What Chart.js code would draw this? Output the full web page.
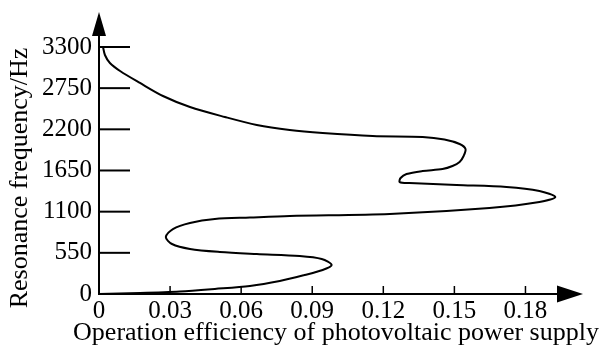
<!DOCTYPE html>
<html>
<head>
<meta charset="utf-8">
<script src="https://cdn.jsdelivr.net/npm/chart.js@4"></script>
<style>
  html, body { margin: 0; padding: 0; background: #fff; }
  #wrap { width: 610px; height: 351px; }
</style>
</head>
<body>
<div id="wrap"><canvas id="resChart" width="610" height="351"></canvas></div>
<script>
  // curve traced from top (3300 Hz) down to the origin
  const efficiency = [
    0.0017, 0.0025, 0.0046, 0.0089, 0.0173, 0.027, 0.0384, 0.0531, 0.0666, 0.0805,
    0.0944, 0.1155, 0.1366, 0.1458, 0.1522, 0.1547, 0.1539, 0.1522, 0.1492, 0.145,
    0.1366, 0.1298, 0.1273, 0.1269, 0.1311, 0.1509, 0.172, 0.1859, 0.1926, 0.1859,
    0.1648, 0.1227, 0.0805, 0.0637, 0.0489, 0.0384, 0.0312, 0.0282, 0.0308, 0.0384,
    0.051, 0.0666, 0.0847, 0.094, 0.0982, 0.0944, 0.0868, 0.0763, 0.0637, 0.0489,
    0.0341, 0.0173, 0
  ];
  const frequency = [
    3300, 3193, 3086, 2979, 2819, 2645, 2498, 2365, 2258, 2191,
    2151, 2111, 2098, 2064, 2004, 1937, 1844, 1764, 1710, 1670,
    1643, 1603, 1550, 1496, 1483, 1456, 1430, 1376, 1296, 1229,
    1149, 1069, 1042, 1022, 1002, 949, 868, 762, 668, 601,
    561, 534, 508, 468, 387, 321, 254, 174, 107, 67,
    33, 13, 0
  ];
  const xTicks = [0, 0.03, 0.06, 0.09, 0.12, 0.15, 0.18];
  const yTicks = [0, 550, 1100, 1650, 2200, 2750, 3300];

  const xTitle = 'Operation efficiency of photovoltaic power supply';
  const yTitle = 'Resonance frequency/Hz';

  const points = efficiency.map((x, i) => ({ x: x, y: frequency[i] }));
  const serif = '"Liberation Serif", "Times New Roman", serif';

  // tick marks, arrows and both axis titles
  const axisDecor = {
    id: 'axisDecor',
    afterDraw(chart) {
      const ctx = chart.ctx;
      const area = chart.chartArea;
      const xs = chart.scales.x;
      const ys = chart.scales.y;
      ctx.save();
      ctx.strokeStyle = '#000';
      ctx.fillStyle = '#000';

      ctx.lineWidth = 2;
      yTicks.forEach(v => {
        const py = ys.getPixelForValue(v);
        ctx.beginPath();
        ctx.moveTo(area.left, py);
        ctx.lineTo(area.left + 31, py);
        ctx.stroke();
      });

      ctx.lineWidth = 1.5;
      xTicks.forEach(v => {
        if (v === 0) return;
        const px = xs.getPixelForValue(v);
        ctx.beginPath();
        ctx.moveTo(px, area.bottom);
        ctx.lineTo(px, area.bottom - 8);
        ctx.stroke();
      });

      // y arrow
      ctx.beginPath();
      ctx.moveTo(area.left, area.top - 23);
      ctx.lineTo(area.left - 7, area.top + 1);
      ctx.lineTo(area.left + 7, area.top + 1);
      ctx.closePath();
      ctx.fill();

      // x arrow
      ctx.beginPath();
      ctx.moveTo(area.right + 22, area.bottom);
      ctx.lineTo(area.right - 4, area.bottom - 8.5);
      ctx.lineTo(area.right - 4, area.bottom + 8.5);
      ctx.closePath();
      ctx.fill();

      ctx.font = '26px ' + serif;
      ctx.textAlign = 'center';
      ctx.textBaseline = 'middle';
      ctx.fillText(xTitle, 336, 333);

      ctx.translate(20, 178);
      ctx.rotate(-Math.PI / 2);
      ctx.fillText(yTitle, 0, 0);
      ctx.restore();
    }
  };

  new Chart(document.getElementById('resChart'), {
    type: 'scatter',
    data: {
      datasets: [{
        data: points,
        showLine: true,
        tension: 0.3,
        borderColor: '#000',
        borderWidth: 2,
        pointRadius: 0,
        fill: false,
        clip: false
      }]
    },
    options: {
      responsive: false,
      animation: false,
      events: [],
      layout: { padding: { top: 35, right: 49, left: 0, bottom: 0 } },
      plugins: { legend: { display: false }, tooltip: { enabled: false } },
      scales: {
        x: {
          type: 'linear',
          min: 0,
          max: 0.195,
          afterBuildTicks: axis => { axis.ticks = xTicks.map(v => ({ value: v })); },
          afterFit: axis => { axis.height = 57; },
          grid: { display: false, drawTicks: false },
          border: { display: true, color: '#000', width: 2 },
          ticks: {
            color: '#000',
            padding: 2,
            maxRotation: 0,
            autoSkip: false,
            font: { family: serif, size: 25 },
            callback: v => String(v)
          }
        },
        y: {
          type: 'linear',
          min: 0,
          max: 3460,
          afterBuildTicks: axis => { axis.ticks = yTicks.map(v => ({ value: v })); },
          afterFit: axis => { axis.width = 99; },
          grid: { display: false, drawTicks: false },
          border: { display: true, color: '#000', width: 2 },
          ticks: {
            color: '#000',
            padding: 7,
            autoSkip: false,
            font: { family: serif, size: 25 },
            callback: v => String(v)
          }
        }
      }
    },
    plugins: [axisDecor]
  });
</script>
</body>
</html>
